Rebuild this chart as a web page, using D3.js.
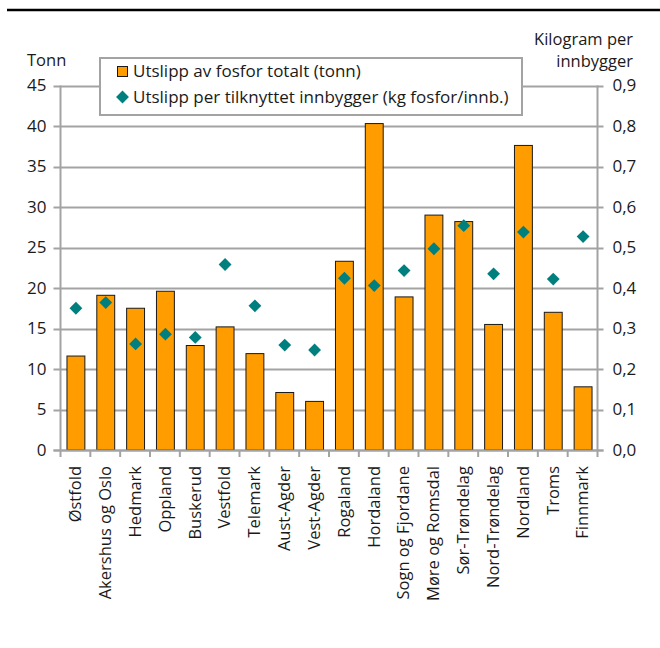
<!DOCTYPE html>
<html>
<head>
<meta charset="utf-8">
<script src="https://cdn.jsdelivr.net/npm/d3@7"></script>
<style>
  html, body { margin: 0; padding: 0; background: #fff; }
  svg { display: block; }
  text { font-family: "Open Sans", "Noto Sans", sans-serif; fill: #1a1a1a; }
</style>
</head>
<body>
<svg id="chart" width="660" height="648"></svg>
<script>
// Fylker
const categories = [
  "Østfold", "Akershus og Oslo", "Hedmark", "Oppland", "Buskerud", "Vestfold",
  "Telemark", "Aust-Agder", "Vest-Agder", "Rogaland", "Hordaland",
  "Sogn og Fjordane", "Møre og Romsdal", "Sør-Trøndelag", "Nord-Trøndelag",
  "Nordland", "Troms", "Finnmark"
];
// Utslipp av fosfor totalt (tonn)
const totalTonn = [11.6, 19.1, 17.5, 19.6, 12.9, 15.2, 11.9, 7.1, 6.0, 23.3, 40.3, 18.9, 29.0, 28.2, 15.5, 37.6, 17.0, 7.8];
// Utslipp per tilknyttet innbygger (kg fosfor/innb.)
const perInnbygger = [0.350, 0.364, 0.262, 0.286, 0.278, 0.458, 0.356, 0.259, 0.247, 0.424, 0.406, 0.443, 0.497, 0.554, 0.435, 0.538, 0.422, 0.527];
// Aksemerker
const leftTicks = [0, 5, 10, 15, 20, 25, 30, 35, 40, 45];
const rightTicks = [0, 0.1, 0.2, 0.3, 0.4, 0.5, 0.6, 0.7, 0.8, 0.9];
const legendLabels = ["Utslipp av fosfor totalt (tonn)", "Utslipp per tilknyttet innbygger (kg fosfor/innb.)"];

const svg = d3.select("#chart");
const grid = "#a3a3a3";
const orange = "#ff9c00";
const teal = "#007f7f";
const fs = "16.5px";

const plotL = 60.5, plotR = 597.5, plotT = 85.5, plotB = 450;

const x = d3.scaleBand().domain(categories).range([plotL, plotR]).paddingInner(0.4).paddingOuter(0.2);
const yL = d3.scaleLinear().domain([0, 45]).range([plotB, plotT]);
const yR = d3.scaleLinear().domain([0, 0.9]).range([plotB, plotT]);

// heading rule
svg.append("line").attr("x1", 7).attr("x2", 660).attr("y1", 10).attr("y2", 10)
  .attr("stroke", "#000").attr("stroke-width", 2.5);

// gridlines
svg.append("g").selectAll("line").data(leftTicks).join("line")
  .attr("x1", plotL - 7).attr("x2", plotR + 6)
  .attr("y1", d => Math.round(yL(d)) + 0.5).attr("y2", d => Math.round(yL(d)) + 0.5)
  .attr("stroke", grid).attr("stroke-width", 2);

// left axis
const axL = svg.append("g").attr("transform", `translate(${plotL},0)`)
  .call(d3.axisLeft(yL).tickValues(leftTicks).tickSize(0).tickPadding(14).tickFormat(d3.format("d")));
axL.select(".domain").remove();
axL.selectAll("text").style("font-size", "17px").style("font-family", "'Open Sans', sans-serif").attr("fill", "#1a1a1a");
svg.append("line").attr("x1", plotL).attr("x2", plotL).attr("y1", plotT).attr("y2", plotB)
  .attr("stroke", grid).attr("stroke-width", 2);

// right axis
const fmtR = v => d3.format(".1f")(v).replace(".", ",");
const axR = svg.append("g").attr("transform", `translate(${plotR},0)`)
  .call(d3.axisRight(yR).tickValues(rightTicks).tickSize(0).tickPadding(15).tickFormat(fmtR));
axR.select(".domain").remove();
axR.selectAll("text").style("font-size", "17px").style("font-family", "'Open Sans', sans-serif").attr("fill", "#1a1a1a");
svg.append("line").attr("x1", plotR).attr("x2", plotR).attr("y1", plotT).attr("y2", plotB)
  .attr("stroke", grid).attr("stroke-width", 2);

// bottom axis
const bounds = d3.range(categories.length + 1).map(i => plotL + i * x.step());
svg.append("g").selectAll("line").data(bounds).join("line")
  .attr("x1", d => d).attr("x2", d => d).attr("y1", plotB).attr("y2", plotB + 7)
  .attr("stroke", grid).attr("stroke-width", 2);

svg.append("g").selectAll("text").data(categories).join("text")
  .attr("transform", d => `translate(${x(d) + x.bandwidth() / 2},466) rotate(-90)`)
  .attr("text-anchor", "end").attr("dy", "0.35em")
  .style("font-size", fs).text(d => d);

// bars
svg.append("g").selectAll("rect").data(categories).join("rect")
  .attr("x", d => x(d) + 0.5)
  .attr("y", (d, i) => yL(totalTonn[i]))
  .attr("width", x.bandwidth())
  .attr("height", (d, i) => plotB - yL(totalTonn[i]))
  .attr("fill", orange).attr("stroke", "#1a1a1a").attr("stroke-width", 1);

// bottom axis baseline
svg.append("line").attr("x1", plotL - 7).attr("x2", plotR + 6).attr("y1", plotB + 0.5).attr("y2", plotB + 0.5)
  .attr("stroke", grid).attr("stroke-width", 2);

// per-capita markers
const diamond = d3.symbol().type(d3.symbolDiamond2).size(105);
svg.append("g").selectAll("path").data(categories).join("path")
  .attr("transform", (d, i) => `translate(${x(d) + x.bandwidth() / 2 + 0.5},${yR(perInnbygger[i])})`)
  .attr("d", diamond).attr("fill", teal);

// axis titles
svg.append("text").attr("x", 27).attr("y", 66).style("font-size", fs).text("Tonn");
svg.append("text").attr("x", 633).attr("y", 45).attr("text-anchor", "end").style("font-size", fs).text("Kilogram per");
svg.append("text").attr("x", 633).attr("y", 67).attr("text-anchor", "end").style("font-size", fs).text("innbygger");

// legend
const lg = svg.append("g");
lg.append("rect").attr("x", 100).attr("y", 58).attr("width", 422).attr("height", 57)
  .attr("fill", "#fff").attr("stroke", grid).attr("stroke-width", 2);
lg.append("rect").attr("x", 117.5).attr("y", 66.5).attr("width", 10).attr("height", 10)
  .attr("fill", orange).attr("stroke", "#1a1a1a").attr("stroke-width", 1);
lg.append("path").attr("transform", "translate(122.5,97)").attr("d", diamond).attr("fill", teal);
lg.selectAll("text.lab").data(legendLabels).join("text").attr("class", "lab")
  .attr("x", 133).attr("y", (d, i) => 77 + i * 26)
  .style("font-size", "17px").text(d => d);
</script>
</body>
</html>
